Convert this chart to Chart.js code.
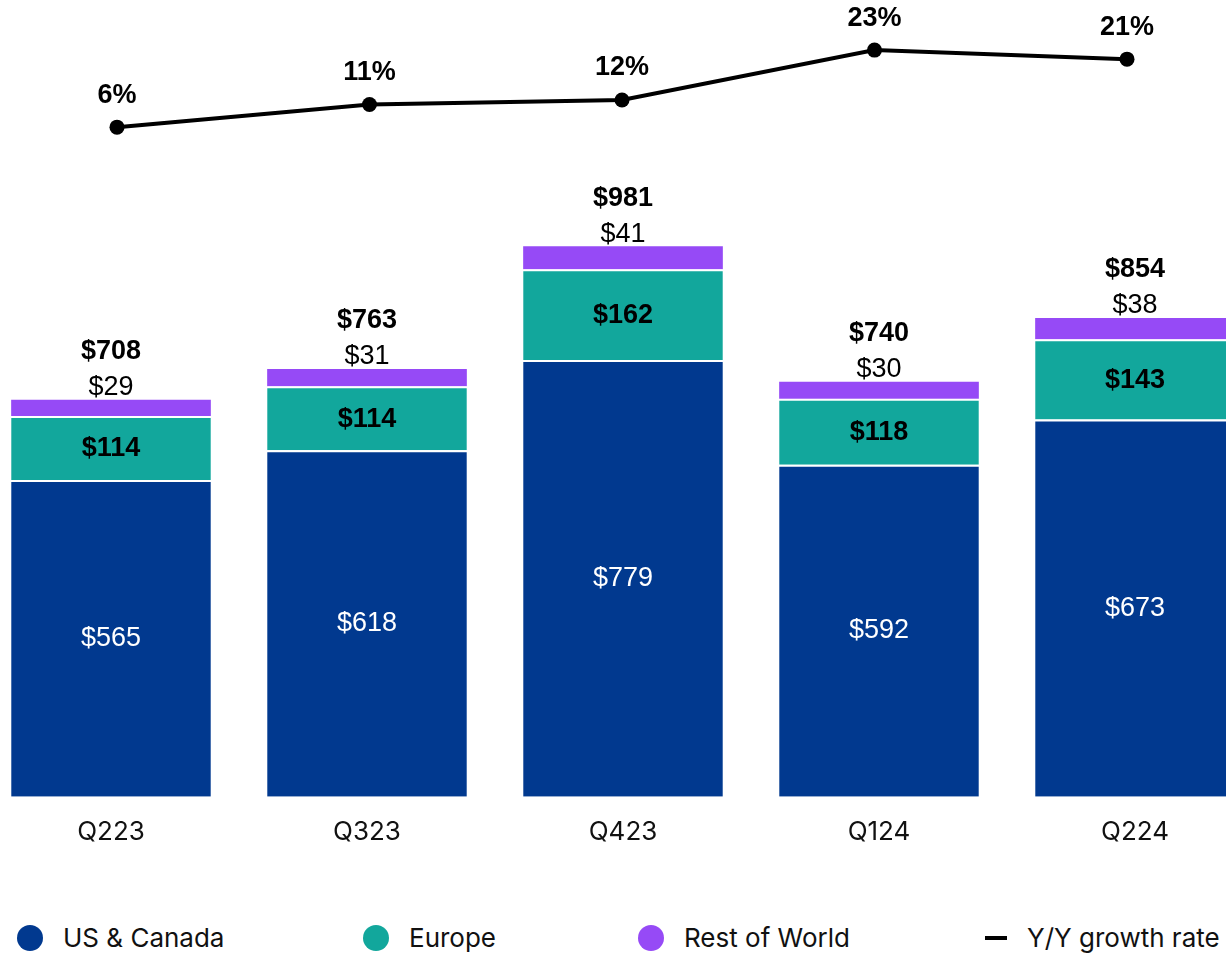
<!DOCTYPE html>
<html>
<head>
<meta charset="utf-8">
<script src="https://cdn.jsdelivr.net/npm/chart.js@4.4.1/dist/chart.umd.min.js"></script>
<style>
  html, body { margin: 0; padding: 0; background: #fff; overflow: hidden; }
  body { width: 1226px; height: 954px; position: relative; }
  #wrap { position: absolute; left: -17px; top: 0; width: 1280px; height: 868px; }
  .legend { position: absolute; top: 923px; left: 0; width: 1226px; height: 30px;
            font-family: "Inter", "Noto Sans", sans-serif; font-size: 26px; color: #111; }
  .item { position: absolute; top: 0; height: 30px; line-height: 30px; white-space: nowrap; }
  .dot { position: absolute; top: 2px; width: 26px; height: 26px; border-radius: 50%; }
  .dash { position: absolute; top: 13px; width: 22px; height: 4px; background: #000; }
</style>
</head>
<body>
<div id="wrap"><canvas id="chart" width="1280" height="868"></canvas></div>
<div class="legend" id="legend"></div>
<script>
// chart values
const quarters = ["Q223", "Q323", "Q423", "Q124", "Q224"];
const usCanada = [565, 618, 779, 592, 673];
const europe = [114, 114, 162, 118, 143];
const restOfWorld = [29, 31, 41, 30, 38];
const totals = [708, 763, 981, 740, 854];
const growth = [6, 11, 12, 23, 21];

const colors = {
  us: "#01398F",
  europe: "#12A79C",
  row: "#964AF6",
  line: "#000000",
};

// draws the value labels on/above the bars and above the line points
const valueLabels = {
  id: "valueLabels",
  afterDatasetsDraw(chart) {
    const ctx = chart.ctx;
    const usMeta = chart.getDatasetMeta(0);
    const euMeta = chart.getDatasetMeta(1);
    const rowMeta = chart.getDatasetMeta(2);
    const lineMeta = chart.getDatasetMeta(3);
    ctx.save();
    ctx.textAlign = "center";
    ctx.textBaseline = "middle";
    quarters.forEach((q, i) => {
      const u = usMeta.data[i], e = euMeta.data[i], r = rowMeta.data[i], p = lineMeta.data[i];

      ctx.font = '27px "Liberation Sans", Arial, sans-serif';
      ctx.fillStyle = "#ffffff";
      ctx.fillText("$" + usCanada[i], u.x, (u.y + u.base) / 2);

      ctx.font = 'bold 27px "Liberation Sans", Arial, sans-serif';
      ctx.fillStyle = "#000000";
      ctx.fillText("$" + europe[i], e.x, (e.y + e.base) / 2 + 1);

      ctx.font = '27px "Liberation Sans", Arial, sans-serif';
      ctx.fillText("$" + restOfWorld[i], r.x, r.y - 12);

      ctx.font = 'bold 27px "Liberation Sans", Arial, sans-serif';
      ctx.fillText("$" + totals[i], r.x, r.y - 48);

      ctx.fillText(growth[i] + "%", p.x, p.y - 32);
    });
    ctx.restore();
  },
};

const segBorder = { top: 2, left: 0, right: 0, bottom: 0 };

new Chart(document.getElementById("chart"), {
  type: "bar",
  data: {
    labels: quarters,
    datasets: [
      {
        label: "US & Canada",
        data: usCanada,
        backgroundColor: colors.us,
        borderColor: "#ffffff",
        borderWidth: segBorder,
        borderSkipped: false,
        order: 2,
      },
      {
        label: "Europe",
        data: europe,
        backgroundColor: colors.europe,
        borderColor: "#ffffff",
        borderWidth: segBorder,
        borderSkipped: false,
        order: 2,
      },
      {
        label: "Rest of World",
        data: restOfWorld,
        backgroundColor: colors.row,
        borderWidth: 0,
        order: 2,
      },
      {
        type: "line",
        label: "Y/Y growth rate",
        data: growth.map((g, i) => ({ x: i, y: g })),
        xAxisID: "x2",
        yAxisID: "y2",
        borderColor: colors.line,
        backgroundColor: colors.line,
        borderWidth: 4,
        pointRadius: 7.5,
        pointBackgroundColor: colors.line,
        pointBorderWidth: 0,
        tension: 0,
        order: 1,
      },
    ],
  },
  options: {
    responsive: false,
    animation: false,
    devicePixelRatio: 1,
    layout: { padding: 0, autoPadding: false },
    datasets: {
      bar: { categoryPercentage: 1, barPercentage: 0.78, grouped: false },
    },
    plugins: {
      legend: { display: false },
      tooltip: { enabled: false },
    },
    scales: {
      x: {
        stacked: true,
        grid: { display: false, drawTicks: false },
        border: { display: false },
        ticks: {
          padding: 20,
          color: "#111",
          font: { family: "Inter", size: 26 },
        },
      },
      y: {
        stacked: true,
        display: false,
        min: 0,
        max: 1421,
      },
      x2: {
        type: "linear",
        display: false,
        offset: false,
        grid: { offset: false },
        min: -0.5307,
        max: 4.5386,
      },
      y2: {
        display: false,
        min: -141.7,
        max: 34.05,
      },
    },
  },
  plugins: [valueLabels],
});

// html legend under the chart
const legendItems = [
  { text: "US & Canada", color: colors.us, mark: "dot", x: 17 },
  { text: "Europe", color: colors.europe, mark: "dot", x: 363 },
  { text: "Rest of World", color: colors.row, mark: "dot", x: 638 },
  { text: "Y/Y growth rate", color: colors.line, mark: "dash", x: 985 },
];
const legendEl = document.getElementById("legend");
legendItems.forEach((it) => {
  const item = document.createElement("div");
  item.className = "item";
  item.style.left = it.x + "px";
  const mark = document.createElement("span");
  mark.className = it.mark;
  mark.style.background = it.color;
  mark.style.left = "0px";
  const label = document.createElement("span");
  label.textContent = it.text;
  label.style.marginLeft = (it.mark === "dot" ? 46 : 42) + "px";
  item.appendChild(mark);
  item.appendChild(label);
  legendEl.appendChild(item);
});
</script>
</body>
</html>
